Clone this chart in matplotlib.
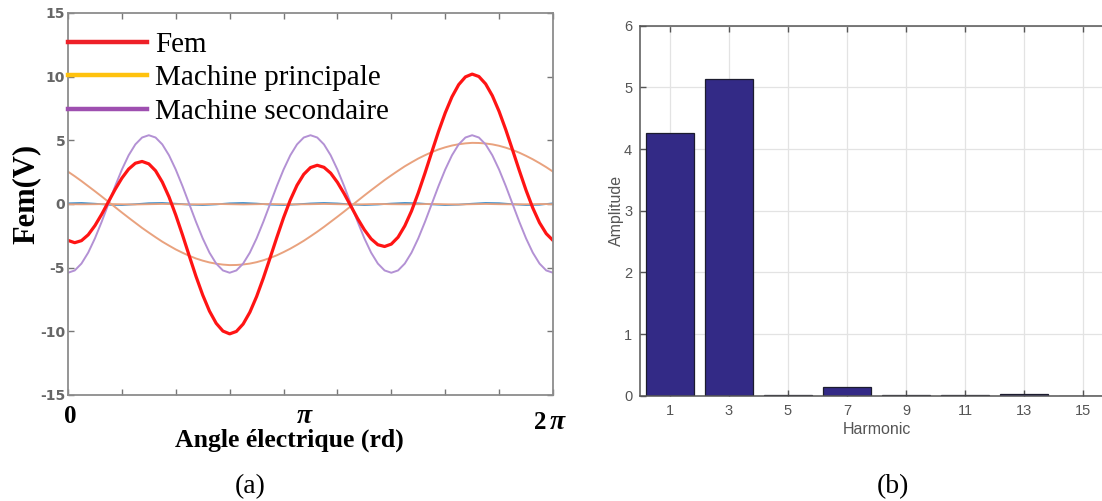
import matplotlib.pyplot as plt
import numpy as np
from matplotlib.lines import Line2D

plt.rcParams['axes.unicode_minus'] = False

# angle electrique en degres (0 .. 2 pi)
angle = np.arange(0, 361, 5)

fem = [-2.86, -3.04, -2.88, -2.42, -1.70, -0.81, 0.17, 1.15, 2.03, 2.74,
       3.20, 3.34, 3.15, 2.61, 1.72, 0.55, -0.87, -2.43, -4.07, -5.68,
       -7.15, -8.41, -9.37, -9.98, -10.20, -10.01, -9.43, -8.50, -7.27, -5.82,
       -4.24, -2.63, -1.08, 0.31, 1.47, 2.33, 2.86, 3.04, 2.88, 2.42,
       1.70, 0.81, -0.17, -1.15, -2.03, -2.74, -3.20, -3.34, -3.15, -2.61,
       -1.72, -0.55, 0.87, 2.43, 4.07, 5.68, 7.15, 8.41, 9.37, 9.98,
       10.20, 10.01, 9.43, 8.50, 7.27, 5.82, 4.24, 2.63, 1.08, -0.31,
       -1.47, -2.33, -2.86]

principale = [2.54, 2.18, 1.80, 1.40, 1.00, 0.59, 0.17, -0.25, -0.67, -1.08,
              -1.48, -1.88, -2.25, -2.61, -2.96, -3.27, -3.57, -3.83, -4.07, -4.28,
              -4.45, -4.59, -4.69, -4.76, -4.80, -4.79, -4.75, -4.68, -4.57, -4.42,
              -4.24, -4.03, -3.78, -3.51, -3.21, -2.89, -2.54, -2.18, -1.80, -1.40,
              -1.00, -0.59, -0.17, 0.25, 0.67, 1.08, 1.48, 1.88, 2.25, 2.61,
              2.96, 3.27, 3.57, 3.83, 4.07, 4.28, 4.45, 4.59, 4.69, 4.76,
              4.80, 4.79, 4.75, 4.68, 4.57, 4.42, 4.24, 4.03, 3.78, 3.51,
              3.21, 2.89, 2.54]

secondaire = [-5.40, -5.22, -4.68, -3.82, -2.70, -1.40, 0.00, 1.40, 2.70, 3.82,
              4.68, 5.22, 5.40, 5.22, 4.68, 3.82, 2.70, 1.40, 0.00, -1.40,
              -2.70, -3.82, -4.68, -5.22, -5.40, -5.22, -4.68, -3.82, -2.70, -1.40,
              0.00, 1.40, 2.70, 3.82, 4.68, 5.22, 5.40, 5.22, 4.68, 3.82,
              2.70, 1.40, 0.00, -1.40, -2.70, -3.82, -4.68, -5.22, -5.40, -5.22,
              -4.68, -3.82, -2.70, -1.40, 0.00, 1.40, 2.70, 3.82, 4.68, 5.22,
              5.40, 5.22, 4.68, 3.82, 2.70, 1.40, 0.00, -1.40, -2.70, -3.82,
              -4.68, -5.22, -5.40]

# petites composantes proches de zero
angle_small = np.arange(0, 361, 10)
ripple_blue = [0.05, 0.08, 0.02, -0.06, -0.08, -0.02, 0.06, 0.08, 0.02, -0.05,
               -0.08, -0.03, 0.05, 0.08, 0.03, -0.05, -0.08, -0.03, 0.04, 0.08,
               0.04, -0.04, -0.08, -0.04, 0.03, 0.08, 0.05, -0.03, -0.08, -0.05,
               0.02, 0.08, 0.06, -0.02, -0.08, -0.06, 0.05]
ripple_orange = [-0.02, -0.03, -0.02, 0.00, -0.02, -0.04, -0.02, 0.00, -0.02, -0.03,
                 -0.02, 0.00, -0.02, -0.04, -0.02, 0.00, -0.02, -0.03, -0.02, 0.00,
                 -0.02, -0.04, -0.02, 0.00, -0.02, -0.03, -0.02, 0.00, -0.02, -0.04,
                 -0.02, 0.00, -0.02, -0.03, -0.02, 0.00, -0.02]

harmonics = [1, 3, 5, 7, 9, 11, 13, 15]
amplitude = [4.26, 5.13, 0.01, 0.14, 0.01, 0.01, 0.03, 0.0]

serif = 'Liberation Serif'
sans = 'Liberation Sans'

fig = plt.figure(figsize=(11.02, 5.01), dpi=100)

# ---- (a) ----
ax1 = fig.add_axes([0.0617, 0.2116, 0.4401, 0.7625])
ax1.plot(angle_small, ripple_blue, color='#3F8FCB', lw=1.3)
ax1.plot(angle_small, ripple_orange, color='#E9A27E', lw=1.3)
ax1.plot(angle, principale, color='#E9A27E', lw=1.4)
ax1.plot(angle, secondaire, color='#B391D4', lw=1.4)
ax1.plot(angle, fem, color='#FF1414', lw=2.3)
ax1.set_xlim(0, 360)
ax1.set_ylim(-15, 15)
ax1.set_xticks(np.arange(0, 361, 40))
ax1.set_xticklabels([])
ax1.set_yticks([-15, -10, -5, 0, 5, 10, 15])
ax1.tick_params(direction='in', top=True, right=True, length=4, width=1,
                color='#777777', labelcolor='#666666', labelsize=10, pad=2)
for lab in ax1.get_yticklabels():
    lab.set_fontweight('bold')
for sp in ax1.spines.values():
    sp.set_color('#8C8C8C')
    sp.set_linewidth(1.3)

handles = [Line2D([], [], color='#EE2028', lw=3.2),
           Line2D([], [], color='#FFC20E', lw=3.2),
           Line2D([], [], color='#9E4FB0', lw=3.2)]
ax1.legend(handles, ['Fem', 'Machine principale', 'Machine secondaire'],
           loc='upper left', bbox_to_anchor=(0.0, 0.952), frameon=False,
           prop={'family': serif, 'size': 21}, handlelength=2.7,
           handletextpad=0.3, labelspacing=0.25, borderpad=0, borderaxespad=0)

W, H = 1102.0, 501.0
fig.text(70 / W, 1 - 423 / H, '0', family=serif, weight='bold', size=18,
         ha='center', va='baseline')
fig.text(304 / W, 1 - 423 / H, 'π', family=serif, style='italic', weight='bold',
         size=20, ha='center', va='baseline')
fig.text(534 / W, 1 - 429 / H, '2', family=serif, weight='bold', size=18,
         ha='left', va='baseline')
fig.text(550 / W, 1 - 429 / H, 'π', family=serif, style='italic', weight='bold',
         size=20, ha='left', va='baseline')
fig.text(289 / W, 1 - 447 / H, 'Angle électrique (rd)', family=serif,
         weight='bold', size=18.5, ha='center', va='baseline')
fig.text(26 / W, 1 - 194 / H, 'Fem(V)', family=serif, weight='bold', size=22,
         rotation=90, ha='center', va='center')
fig.text(250 / W, 1 - 487 / H, '(a)', family=serif, size=20,
         ha='center', va='center')

# ---- (b) ----
ax2 = fig.add_axes([0.5812, 0.2102, 0.4283, 0.7385])
ax2.set_axisbelow(True)
ax2.grid(True, color='#E3E3E3', lw=0.9)
ax2.bar(harmonics, amplitude, width=1.6, color='#332A86', edgecolor='#1C1C2E',
        linewidth=0.9)
ax2.set_xlim(0, 16)
ax2.set_ylim(0, 6)
ax2.set_xticks(harmonics)
ax2.set_yticks(range(7))
ax2.tick_params(direction='in', top=True, right=True, length=4, width=1,
                color='#555555', labelcolor='#555555', labelsize=10.5, pad=6)
for lab in ax2.get_xticklabels() + ax2.get_yticklabels():
    lab.set_family(sans)
for sp in ax2.spines.values():
    sp.set_color('#555555')
    sp.set_linewidth(1.1)
ax2.set_xlabel('Harmonic', family=sans, size=11.5, color='#555555', labelpad=3)
ax2.set_ylabel('Amplitude', family=sans, size=11.5, color='#555555', labelpad=0)
fig.text(893 / W, 1 - 487 / H, '(b)', family=serif, size=20,
         ha='center', va='center')

fig.savefig('out.png', dpi=100)
